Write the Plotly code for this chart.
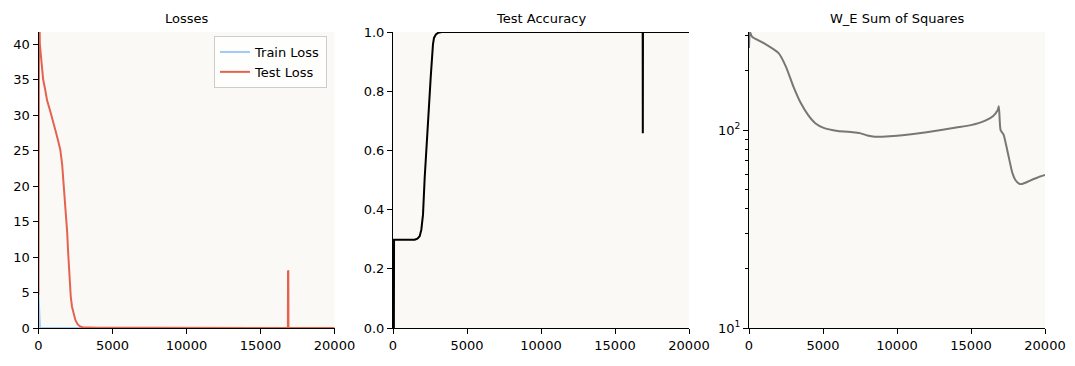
import plotly.graph_objects as go

# ---------------- data ----------------
loss_steps = [0, 40, 90, 150, 220, 315, 450, 574, 800, 1000, 1137, 1300, 1475, 1600, 1700, 1800,
              1880, 1940, 1993, 2050, 2105, 2180, 2264, 2370, 2489, 2650, 2827, 3000, 4000, 8000,
              12000, 16850, 16860, 16880, 16890, 18000, 20000]
test_loss = [4.7, 48.0, 40.0, 38.3, 36.5, 35.0, 33.6, 32.1, 30.5, 29.1, 27.9, 26.6, 25.1, 23.0, 20.4,
             17.8, 15.7, 13.4, 11.0, 8.6, 6.3, 4.4, 3.0, 1.9, 1.13, 0.5, 0.2, 0.1, 0.03, 0.02,
             0.01, 0.01, 8.1, 8.0, 0.03, 0.01, 0.005]
train_steps = [0, 20, 50, 100, 200, 1000, 5000, 10000, 16860, 16880, 20000]
train_loss = [4.7, 3.0, 0.6, 0.05, 0.01, 0.003, 0.001, 0.001, 0.001, 0.001, 0.001]

acc_steps = [0, 60, 70, 500, 1000, 1464, 1650, 1802, 1914, 2027, 2140, 2253, 2410, 2545, 2635,
             2700, 2770, 2900, 3040, 3300, 10000, 16870, 16880, 16890, 20000]
test_acc = [0.0, 0.0, 0.298, 0.298, 0.298, 0.298, 0.302, 0.31, 0.332, 0.383, 0.507, 0.619, 0.732,
            0.845, 0.923, 0.958, 0.98, 0.992, 0.997, 1.0, 1.0, 1.0, 0.658, 1.0, 1.0]

we_steps = [0, 60, 200, 1000, 2000, 2500, 3000, 3500, 4000, 4500, 5000, 6000, 7000, 7500, 8000,
            8500, 9000, 10000, 12000, 14000, 15000, 16000, 16500, 16800, 16880, 17000, 17200,
            17500, 17800, 18000, 18300, 18500, 19000, 19500, 20000]
we_ss = [260, 313, 297, 275, 245, 209, 166, 137, 119, 108, 103, 99, 97.7, 96.6, 94,
         92.6, 92.6, 93.6, 97.7, 103, 106, 112, 118, 126, 132, 100, 95,
         76, 60.6, 56, 53.4, 53.6, 55.6, 57.6, 59.3]

titles = ["Losses", "Test Accuracy", "W_E Sum of Squares"]
x_ticks = [0, 5000, 10000, 15000, 20000]
x_tick_labels = ["0", "5000", "10000", "15000", "20000"]
loss_ticks = [0, 5, 10, 15, 20, 25, 30, 35, 40]
acc_ticks = [0.0, 0.2, 0.4, 0.6, 0.8, 1.0]
acc_tick_labels = ["0.0", "0.2", "0.4", "0.6", "0.8", "1.0"]
log_ticks = [10, 100]
log_tick_labels = ["10<sup>1</sup>", "10<sup>2</sup>"]
log_minor_ticks = [20, 30, 40, 50, 60, 70, 80, 90, 200, 300]

# ---------------- figure ----------------
W, H = 1075, 366
fig = go.Figure()
font = dict(family="DejaVu Sans", size=13, color="#000000")
bg = "#faf9f6"

fig.add_trace(go.Scatter(x=train_steps, y=train_loss, mode="lines", name="Train Loss",
                         line=dict(color="#a1c9f4", width=2), xaxis="x", yaxis="y"))
fig.add_trace(go.Scatter(x=loss_steps, y=test_loss, mode="lines", name="Test Loss",
                         line=dict(color="#e3634f", width=2), xaxis="x", yaxis="y"))
fig.add_trace(go.Scatter(x=acc_steps, y=test_acc, mode="lines", showlegend=False,
                         line=dict(color="#000000", width=2), xaxis="x2", yaxis="y2"))
fig.add_trace(go.Scatter(x=we_steps, y=we_ss, mode="lines", showlegend=False,
                         line=dict(color="#777777", width=2, shape="spline", smoothing=0.6),
                         xaxis="x3", yaxis="y3"))

px = [(38.5, 334.5), (393, 689), (749, 1045)]
ydom = [(H - 328) / H, (H - 32) / H]

axis_common = dict(showline=True, linecolor="#000000", linewidth=1, ticks="outside", ticklen=5,
                   tickwidth=1, tickcolor="#000000", showgrid=False, zeroline=False, mirror=False,
                   tickfont=font, automargin=False, tickmode="array")

layout = dict(width=W, height=H, margin=dict(l=0, r=0, t=0, b=0, autoexpand=False),
              paper_bgcolor="white", plot_bgcolor=bg, font=font, showlegend=True)

for i, (a, b) in enumerate(px):
    sfx = "" if i == 0 else str(i + 1)
    layout["xaxis" + sfx] = dict(axis_common, domain=[a / W, b / W], range=[0, 20000],
                                 tickvals=x_ticks, ticktext=x_tick_labels, anchor="y" + sfx)
layout["yaxis"] = dict(axis_common, domain=ydom, range=[0, 41.7], tickvals=loss_ticks,
                       ticktext=[str(v) for v in loss_ticks], anchor="x")
layout["yaxis2"] = dict(axis_common, domain=ydom, range=[0, 1], tickvals=acc_ticks,
                        ticktext=acc_tick_labels, anchor="x2")
layout["yaxis3"] = dict(axis_common, domain=ydom, type="log", range=[1, 2.496],
                        tickvals=log_ticks, ticktext=log_tick_labels, anchor="x3",
                        minor=dict(tickvals=log_minor_ticks, ticks="outside",
                                   ticklen=3, tickwidth=1, tickcolor="#000000"))

layout["legend"] = dict(x=327 / W, y=1 - 36 / H, xanchor="right", yanchor="top",
                        bgcolor="rgba(255,255,255,0.8)", bordercolor="#cccccc", borderwidth=1,
                        font=font, itemwidth=30, tracegroupgap=0)

layout["annotations"] = [dict(text=t, x=(a + b) / 2 / W, y=1 - 19 / H, xref="paper", yref="paper",
                              showarrow=False, xanchor="center", yanchor="middle", font=font)
                         for t, (a, b) in zip(titles, px)]

fig.update_layout(**layout)
fig.write_html("out.html")
